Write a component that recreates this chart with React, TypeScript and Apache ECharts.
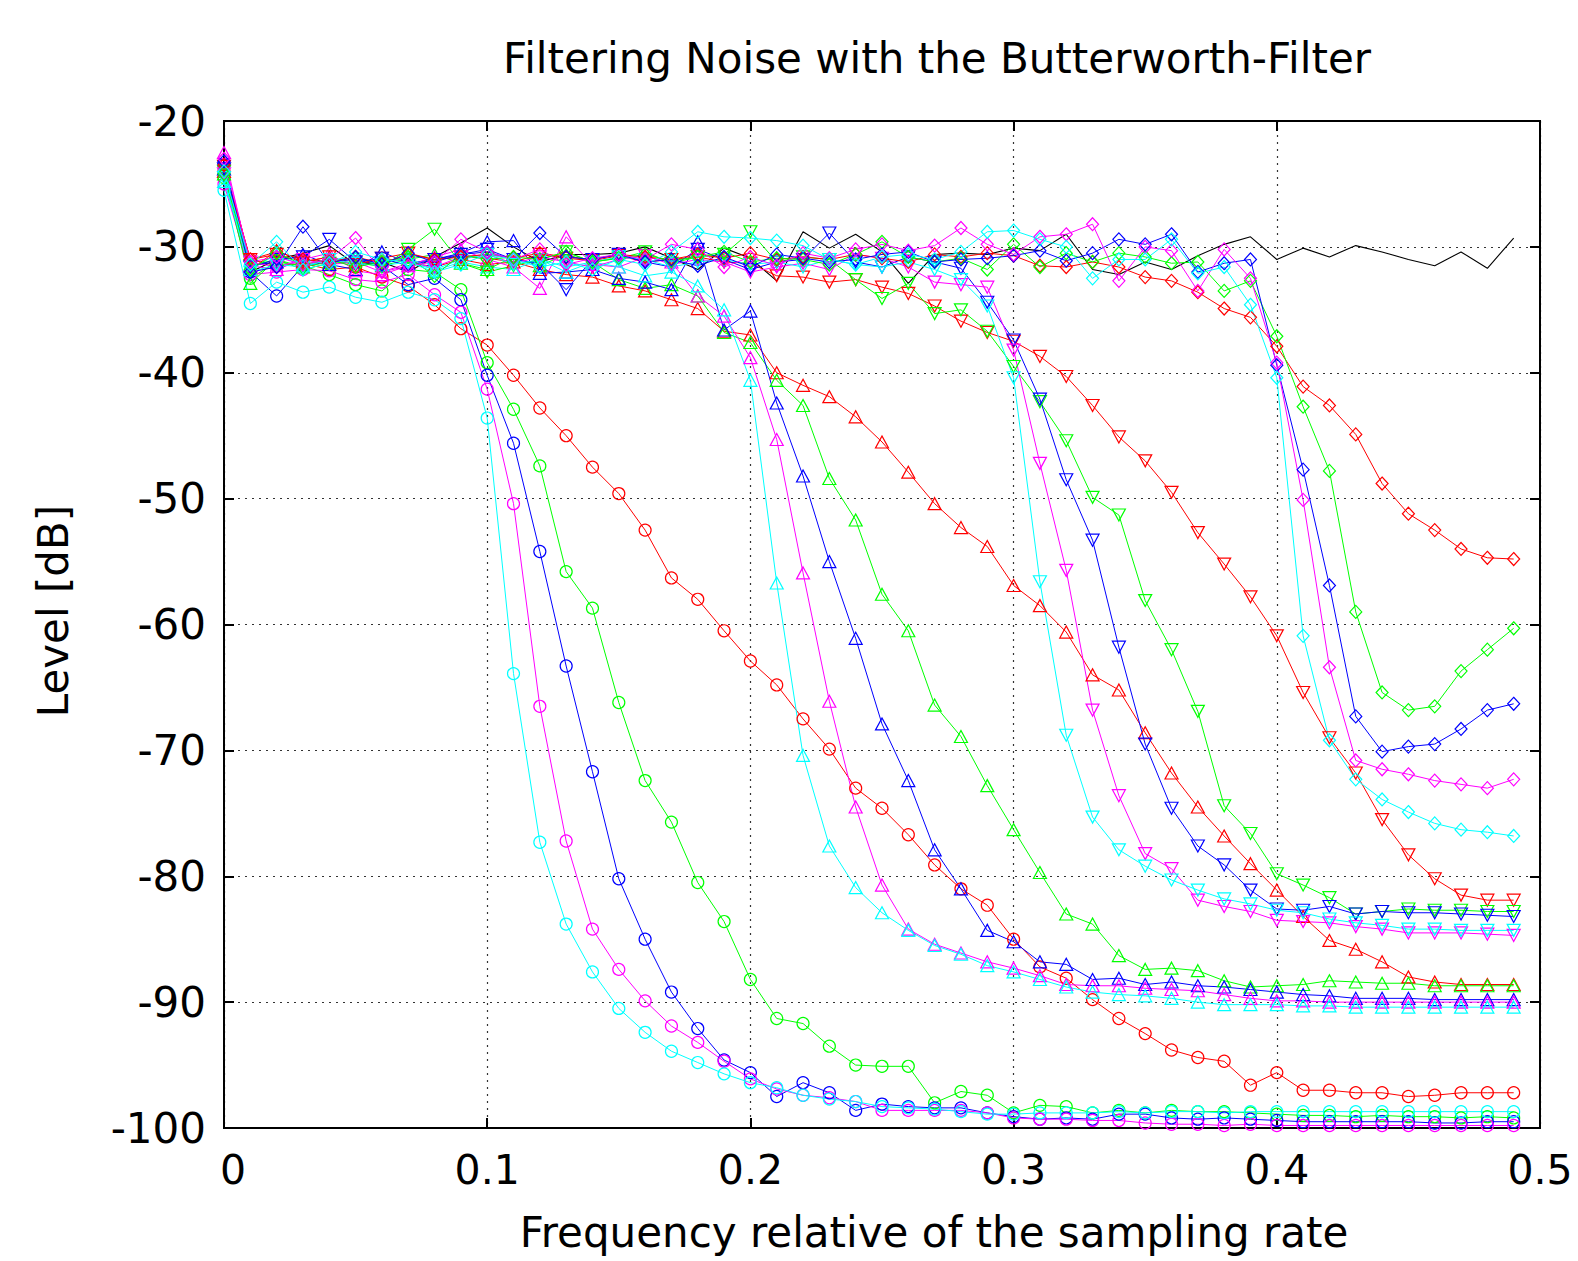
import React, { useEffect, useRef } from "react";
import * as echarts from "echarts";

const freq = [0, 0.01, 0.02, 0.03, 0.04, 0.05, 0.06, 0.07, 0.08, 0.09, 0.1, 0.11, 0.12, 0.13, 0.14, 0.15, 0.16, 0.17, 0.18, 0.19, 0.2, 0.21, 0.22, 0.23, 0.24, 0.25, 0.26, 0.27, 0.28, 0.29, 0.3, 0.31, 0.32, 0.33, 0.34, 0.35, 0.36, 0.37, 0.38, 0.39, 0.4, 0.41, 0.42, 0.43, 0.44, 0.45, 0.46, 0.47, 0.48, 0.49];

const xTickLabels = ["0", "0.1", "0.2", "0.3", "0.4", "0.5"];

const noise = [-23.3, -32.0, -31.0, -30.5, -29.9, -31.4, -31.2, -32.0, -30.8, -29.7, -28.5, -30.0, -31.2, -30.6, -30.6, -30.5, -30.0, -30.9, -31.8, -30.1, -30.9, -32.7, -28.8, -30.1, -29.0, -30.4, -32.9, -30.6, -30.5, -30.6, -30.1, -30.3, -29.0, -31.8, -32.2, -31.2, -31.8, -30.7, -29.8, -29.2, -31.0, -30.1, -30.8, -29.9, -30.4, -31.0, -31.5, -30.4, -31.7, -29.3];

// cutoff 0.1 (circles)
const circRed = [-24.0, -31.0, -31.5, -31.3, -31.8, -31.6, -32.4, -33.1, -34.6, -36.5, -37.8, -40.2, -42.8, -45.0, -47.5, -49.6, -52.5, -56.3, -58.0, -60.5, -62.9, -64.8, -67.5, -69.9, -73.0, -74.6, -76.7, -79.1, -81.0, -82.3, -85.0, -87.2, -88.1, -89.8, -91.3, -92.5, -93.8, -94.4, -94.7, -96.6, -95.6, -97.0, -97.0, -97.2, -97.2, -97.5, -97.4, -97.2, -97.2, -97.2];
const circGreen = [-24.5, -32.5, -31.2, -31.5, -32.2, -33.0, -33.5, -31.8, -32.0, -33.4, -39.2, -42.9, -47.4, -55.8, -58.7, -66.2, -72.4, -75.7, -80.5, -83.6, -88.2, -91.3, -91.7, -93.5, -95.0, -95.1, -95.1, -98.0, -97.1, -97.4, -98.8, -98.2, -98.3, -98.8, -98.6, -98.8, -98.6, -98.7, -98.7, -98.8, -98.9, -99.0, -99.0, -99.1, -99.0, -99.1, -99.1, -99.2, -99.1, -99.2];
const circBlue = [-23.5, -32.0, -33.9, -31.5, -31.2, -31.0, -31.5, -33.0, -32.5, -34.2, -40.2, -45.6, -54.2, -63.3, -71.7, -80.2, -85.0, -89.2, -92.1, -94.6, -95.6, -97.5, -96.4, -97.2, -98.6, -98.1, -98.3, -98.4, -98.4, -98.8, -99.1, -99.3, -99.2, -99.3, -98.9, -98.9, -99.2, -99.3, -99.2, -99.3, -99.4, -99.5, -99.5, -99.5, -99.5, -99.5, -99.6, -99.6, -99.5, -99.5];
const circMagenta = [-25.0, -32.2, -32.0, -31.8, -31.9, -32.6, -32.8, -32.2, -33.8, -35.2, -41.3, -50.4, -66.5, -77.2, -84.2, -87.4, -89.9, -91.9, -93.2, -94.7, -96.1, -96.9, -97.4, -97.6, -97.9, -98.6, -98.6, -98.6, -98.6, -98.8, -99.2, -99.3, -99.3, -99.4, -99.4, -99.6, -99.7, -99.7, -99.8, -99.7, -99.8, -99.8, -99.8, -99.8, -99.8, -99.8, -99.8, -99.8, -99.8, -99.8];
const circCyan = [-25.5, -34.5, -32.8, -33.6, -33.2, -34.0, -34.4, -33.6, -34.2, -35.7, -43.6, -63.9, -77.3, -83.8, -87.6, -90.5, -92.4, -93.9, -94.8, -95.7, -96.4, -96.8, -97.4, -97.7, -97.9, -98.3, -98.4, -98.5, -98.7, -98.9, -98.9, -98.8, -98.8, -98.8, -98.7, -98.8, -98.7, -98.7, -98.8, -98.7, -98.7, -98.7, -98.7, -98.7, -98.7, -98.7, -98.7, -98.7, -98.7, -98.7];

// cutoff 0.2 (triangles up)
const triUpRed = [-24.0, -31.8, -30.3, -31.2, -30.8, -31.5, -30.9, -31.2, -31.6, -31.0, -31.4, -31.2, -31.8, -32.2, -32.4, -33.1, -33.5, -34.2, -34.9, -36.7, -37.0, -40.0, -41.0, -41.9, -43.5, -45.5, -47.9, -50.4, -52.3, -53.8, -56.9, -58.5, -60.6, -64.0, -65.2, -68.6, -71.8, -74.5, -76.8, -79.0, -81.1, -83.2, -85.1, -85.8, -86.8, -88.0, -88.4, -88.6, -88.6, -88.6];
const triUpGreen = [-24.2, -32.9, -31.0, -31.6, -31.2, -30.8, -31.5, -31.0, -30.6, -31.3, -31.8, -30.8, -31.5, -30.6, -31.2, -32.6, -33.3, -33.0, -33.9, -36.8, -37.6, -40.6, -42.6, -48.4, -51.7, -57.6, -60.5, -66.4, -68.9, -72.8, -76.3, -79.7, -83.0, -83.8, -86.3, -87.4, -87.3, -87.5, -88.3, -88.8, -88.7, -88.6, -88.3, -88.4, -88.5, -88.5, -88.7, -88.7, -88.7, -88.7];
const triUpBlue = [-23.8, -31.5, -31.2, -30.6, -31.4, -31.8, -30.4, -31.3, -31.0, -30.5, -29.6, -29.5, -32.1, -32.0, -31.8, -32.5, -32.8, -33.4, -29.6, -36.6, -35.1, -42.4, -48.2, -55.0, -61.1, -67.9, -72.4, -77.9, -81.0, -84.3, -85.2, -86.8, -87.0, -88.2, -88.1, -88.6, -88.4, -88.7, -88.8, -89.0, -89.2, -89.4, -89.5, -89.7, -89.7, -89.7, -89.8, -89.8, -89.8, -89.8];
const triUpMagenta = [-22.5, -31.5, -31.8, -31.0, -30.5, -31.9, -32.2, -31.5, -30.8, -30.2, -31.0, -31.6, -33.3, -29.2, -31.4, -31.6, -30.8, -31.2, -33.9, -35.5, -38.8, -45.3, -55.9, -66.1, -74.5, -80.7, -84.2, -85.4, -86.1, -86.8, -87.3, -87.9, -88.6, -88.7, -88.7, -88.9, -89.0, -89.1, -89.4, -89.7, -89.9, -89.9, -90.0, -90.0, -90.0, -90.0, -90.0, -90.0, -90.0, -90.0];
const triUpCyan = [-24.8, -31.8, -30.6, -31.5, -31.0, -30.9, -31.4, -30.8, -31.9, -31.2, -31.6, -31.8, -31.0, -32.0, -31.2, -31.6, -32.3, -32.0, -33.1, -35.0, -40.6, -56.7, -70.4, -77.6, -80.9, -82.9, -84.3, -85.5, -86.2, -87.1, -87.6, -88.2, -88.8, -89.2, -89.4, -89.5, -89.7, -90.0, -90.2, -90.2, -90.2, -90.3, -90.3, -90.4, -90.4, -90.4, -90.4, -90.4, -90.4, -90.4];

// cutoff 0.3 (triangles down)
const triDownRed = [-23.6, -31.0, -30.6, -31.2, -30.8, -31.4, -30.9, -30.5, -31.0, -30.8, -30.9, -31.2, -30.6, -30.9, -31.1, -30.7, -31.2, -31.0, -30.8, -31.2, -31.3, -32.3, -32.4, -32.8, -32.6, -33.2, -33.7, -34.7, -35.9, -36.8, -37.5, -38.7, -40.3, -42.6, -45.1, -47.0, -49.5, -52.7, -55.2, -57.8, -60.9, -65.4, -69.0, -71.8, -75.5, -78.3, -80.2, -81.5, -81.9, -81.9];
const triDownGreen = [-24.0, -31.5, -31.0, -31.8, -31.3, -31.2, -31.6, -30.2, -28.6, -31.3, -32.0, -31.5, -31.0, -30.4, -31.2, -30.9, -30.4, -31.3, -30.8, -30.6, -28.8, -31.2, -30.8, -31.0, -32.6, -34.1, -32.9, -35.3, -35.0, -36.7, -39.5, -42.3, -45.4, -49.9, -51.3, -58.1, -62.0, -66.9, -74.4, -76.6, -79.8, -80.7, -81.7, -83.0, -82.8, -82.6, -82.7, -82.7, -82.8, -82.8];
const triDownBlue = [-23.8, -31.6, -31.0, -30.8, -29.4, -31.2, -30.9, -31.5, -31.0, -30.6, -30.2, -31.0, -31.3, -33.4, -31.0, -30.6, -31.2, -31.6, -30.2, -31.0, -31.8, -31.2, -31.0, -28.9, -31.2, -31.6, -30.8, -31.2, -31.7, -34.4, -37.4, -42.1, -48.5, -53.3, -61.8, -69.5, -74.6, -77.6, -79.1, -81.1, -82.6, -82.7, -82.4, -83.0, -82.8, -82.9, -82.9, -83.0, -83.1, -83.2];
const triDownMagenta = [-24.2, -31.2, -31.6, -31.0, -31.4, -31.2, -32.0, -31.3, -31.6, -30.8, -30.6, -31.3, -30.8, -31.2, -31.6, -31.0, -30.7, -31.4, -31.0, -31.2, -32.0, -31.6, -31.3, -31.8, -30.6, -30.9, -31.6, -32.8, -33.0, -33.2, -38.2, -47.2, -55.7, -66.8, -73.6, -78.2, -79.4, -81.9, -82.4, -82.8, -83.5, -83.6, -83.7, -84.0, -84.2, -84.5, -84.5, -84.5, -84.6, -84.7];
const triDownCyan = [-24.5, -32.0, -31.4, -31.6, -31.0, -31.3, -31.5, -31.2, -31.8, -31.0, -30.6, -31.4, -31.0, -31.6, -31.2, -30.8, -31.0, -31.6, -31.2, -31.0, -31.4, -31.2, -31.6, -31.0, -31.4, -31.6, -31.2, -31.8, -32.6, -34.7, -40.4, -56.6, -68.8, -75.3, -77.9, -79.2, -80.3, -81.1, -81.8, -82.2, -82.7, -82.9, -83.4, -83.7, -83.9, -84.2, -84.2, -84.3, -84.3, -84.3];

// cutoff 0.4 (diamonds)
const diamRed = [-23.5, -31.0, -30.4, -31.0, -31.2, -30.8, -31.3, -30.6, -31.0, -30.8, -30.6, -30.9, -30.5, -30.8, -31.0, -30.6, -30.8, -31.0, -30.6, -30.9, -30.5, -31.0, -30.8, -31.0, -30.6, -30.9, -31.2, -30.6, -30.8, -30.5, -30.7, -31.5, -31.6, -31.2, -31.6, -32.4, -32.7, -33.6, -34.9, -35.6, -37.9, -41.1, -42.6, -44.9, -48.8, -51.2, -52.5, -54.0, -54.7, -54.8];
const diamGreen = [-24.2, -31.8, -30.5, -31.4, -31.0, -31.6, -31.2, -30.8, -32.3, -30.6, -31.0, -30.8, -31.0, -30.4, -31.2, -30.9, -30.6, -31.1, -30.8, -30.4, -31.2, -30.9, -31.0, -31.4, -30.6, -29.6, -30.8, -31.2, -30.9, -31.8, -29.8, -31.6, -30.5, -31.2, -30.5, -30.8, -31.3, -31.2, -33.5, -32.7, -37.1, -42.7, -47.8, -59.0, -65.4, -66.8, -66.5, -63.7, -62.0, -60.3];
const diamBlue = [-23.2, -32.0, -31.6, -28.4, -31.3, -30.8, -31.4, -30.5, -31.2, -30.6, -30.4, -31.0, -28.9, -30.8, -31.0, -30.6, -31.2, -31.0, -31.5, -30.8, -31.6, -30.6, -30.9, -31.2, -31.0, -30.6, -30.4, -31.2, -31.0, -30.9, -30.7, -30.3, -31.1, -30.5, -29.4, -29.8, -29.0, -32.0, -31.3, -31.0, -39.4, -47.7, -56.9, -67.3, -70.1, -69.7, -69.5, -68.3, -66.8, -66.3];
const diamMagenta = [-23.0, -31.2, -30.8, -31.4, -31.0, -29.3, -32.0, -31.5, -31.2, -29.4, -30.4, -31.0, -30.2, -31.4, -30.9, -30.6, -31.0, -29.8, -30.2, -31.6, -30.8, -31.5, -30.5, -30.9, -30.2, -29.8, -30.3, -29.9, -28.5, -29.8, -30.6, -29.2, -29.0, -28.2, -32.7, -30.0, -30.3, -33.5, -30.2, -32.5, -39.2, -50.1, -63.4, -70.8, -71.5, -71.9, -72.4, -72.7, -73.0, -72.3];
const diamCyan = [-24.0, -31.4, -29.6, -31.8, -31.3, -30.4, -31.0, -31.2, -32.0, -31.4, -30.6, -31.0, -31.6, -31.2, -31.8, -31.0, -31.4, -30.4, -28.8, -29.2, -29.3, -29.5, -29.9, -31.0, -31.4, -30.8, -30.6, -31.0, -30.4, -28.8, -28.7, -29.4, -30.0, -32.5, -31.0, -31.0, -29.4, -32.1, -31.6, -34.6, -40.4, -60.9, -69.2, -72.3, -73.9, -74.9, -75.8, -76.3, -76.5, -76.8];

const RED = "#ff0000";
const GREEN = "#00ff00";
const BLUE = "#0000ff";
const MAGENTA = "#ff00ff";
const CYAN = "#00ffff";

const FONT = "DejaVu Sans";

function mk(data: number[], color: string, symbol: string, size: any, rotate = 0) {
  return {
    type: "line",
    data: freq.map((f, i) => [f, data[i]]),
    symbol,
    symbolSize: size,
    symbolRotate: rotate,
    showSymbol: true,
    showAllSymbol: true,
    silent: true,
    lineStyle: { color, width: 1 },
    itemStyle: { color: "rgba(0,0,0,0)", borderColor: color, borderWidth: 1.2 },
    emphasis: { disabled: true },
    z: 3,
  };
}

export default function App() {
  const ref = useRef<HTMLDivElement>(null);
  useEffect(() => {
    if (!ref.current) return;
    const chart = echarts.init(ref.current, null, { renderer: "svg" });
    const C = 12;
    const T = [13, 12];
    const D = [12, 13];
    const series: any[] = [
      {
        type: "line",
        data: freq.map((f, i) => [f, noise[i]]),
        symbol: "none",
        silent: true,
        lineStyle: { color: "#000", width: 1.1 },
        z: 3,
      },
      mk(circRed, RED, "circle", C),
      mk(circGreen, GREEN, "circle", C),
      mk(circBlue, BLUE, "circle", C),
      mk(circMagenta, MAGENTA, "circle", C),
      mk(circCyan, CYAN, "circle", C),
      mk(triUpRed, RED, "triangle", T),
      mk(triUpGreen, GREEN, "triangle", T),
      mk(triUpBlue, BLUE, "triangle", T),
      mk(triUpMagenta, MAGENTA, "triangle", T),
      mk(triUpCyan, CYAN, "triangle", T),
      mk(triDownRed, RED, "triangle", T, 180),
      mk(triDownGreen, GREEN, "triangle", T, 180),
      mk(triDownBlue, BLUE, "triangle", T, 180),
      mk(triDownMagenta, MAGENTA, "triangle", T, 180),
      mk(triDownCyan, CYAN, "triangle", T, 180),
      mk(diamRed, RED, "diamond", D),
      mk(diamGreen, GREEN, "diamond", D),
      mk(diamBlue, BLUE, "diamond", D),
      mk(diamMagenta, MAGENTA, "diamond", D),
      mk(diamCyan, CYAN, "diamond", D),
    ];
    const axisLine = { show: true, onZero: false, lineStyle: { color: "#000", width: 2 } };
    const tick = { show: true, inside: true, length: 10, lineStyle: { color: "#000", width: 2 } };
    const split = { show: true, lineStyle: { color: "#333", width: 1.2, type: [2, 5] } };
    chart.setOption({
      animation: false,
      backgroundColor: "#fff",
      grid: {
        left: 224,
        top: 121,
        width: 1316,
        height: 1007,
        show: true,
        borderColor: "#000",
        borderWidth: 2,
        backgroundColor: "transparent",
        containLabel: false,
      },
      xAxis: [
        {
          type: "value",
          min: 0,
          max: 0.5,
          interval: 0.1,
          position: "bottom",
          axisLine,
          axisTick: tick,
          splitLine: split,
          axisLabel: {
            fontSize: 41,
            fontFamily: FONT,
            color: "#000",
            margin: 21,
            formatter: (v: number) => {
              const s = xTickLabels[Math.round(v * 10)] ?? String(v);
              return v === 0 ? "{z|" + s + "}" : s;
            },
            rich: {
              z: { fontSize: 41, fontFamily: FONT, color: "#000", padding: [0, 0, 0, 18] },
            },
          },
        },
        {
          type: "value",
          min: 0,
          max: 0.5,
          interval: 0.1,
          position: "top",
          axisLine,
          axisTick: tick,
          splitLine: { show: false },
          axisLabel: { show: false },
        },
      ],
      yAxis: [
        {
          type: "value",
          min: -100,
          max: -20,
          interval: 10,
          position: "left",
          axisLine,
          axisTick: tick,
          splitLine: split,
          axisLabel: {
            fontSize: 42,
            fontFamily: FONT,
            color: "#000",
            margin: 18,
          },
        },
        {
          type: "value",
          min: -100,
          max: -20,
          interval: 10,
          position: "right",
          axisLine,
          axisTick: tick,
          splitLine: { show: false },
          axisLabel: { show: false },
        },
      ],
      graphic: [
        {
          type: "text",
          x: 937,
          y: 58,
          style: {
            text: "Filtering Noise with the Butterworth-Filter",
            font: `42px "${FONT}"`,
            fill: "#000",
            textAlign: "center",
            textVerticalAlign: "middle",
          },
        },
        {
          type: "text",
          x: 934,
          y: 1232,
          style: {
            text: "Frequency relative of the sampling rate",
            font: `42px "${FONT}"`,
            fill: "#000",
            textAlign: "center",
            textVerticalAlign: "middle",
          },
        },
        {
          type: "text",
          x: 53,
          y: 611,
          rotation: Math.PI / 2,
          style: {
            text: "Level [dB]",
            font: `42px "${FONT}"`,
            fill: "#000",
            textAlign: "center",
            textVerticalAlign: "middle",
          },
        },
      ],
      series,
    });
    return () => chart.dispose();
  }, []);
  return (
    <div
      ref={ref}
      style={{ position: "fixed", left: 0, top: 0, width: 1578, height: 1261, background: "#fff" }}
    />
  );
}
